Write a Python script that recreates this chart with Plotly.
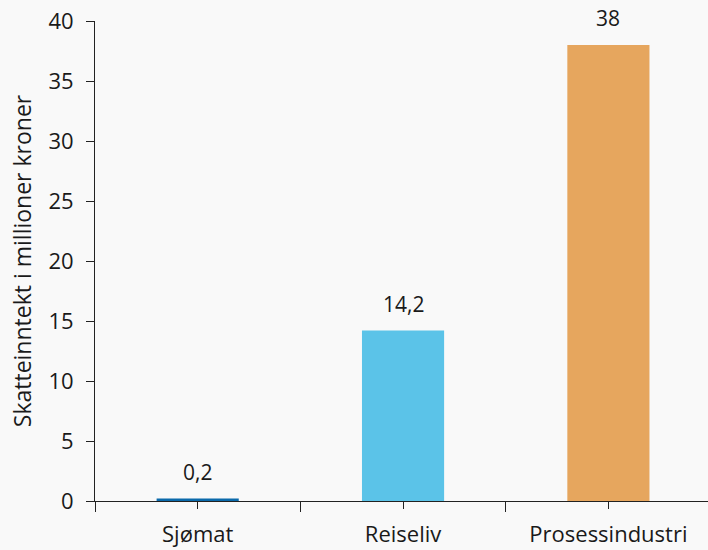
import plotly.graph_objects as go

categories = ["Sjømat", "Reiseliv", "Prosessindustri"]
values = [0.2, 14.2, 38]
colors = ["#0b6aab", "#5bc3e8", "#e6a65e"]
y_ticks = [0, 5, 10, 15, 20, 25, 30, 35, 40]

labels = [("%g" % v).replace(".", ",") for v in values]

font_family = "Open Sans, Noto Sans, sans-serif"
bg = "#f9f9f9"
ink = "#1a1a1a"

fig = go.Figure()
fig.add_trace(go.Bar(
    x=categories, y=values, marker=dict(color=colors, line=dict(width=0)),
    width=0.4, showlegend=False, hoverinfo="skip",
))
# invisible trace on the overlay axis to carry centre ticks
fig.add_trace(go.Scatter(
    x=categories, y=values, xaxis="x2", mode="markers",
    marker=dict(opacity=0), showlegend=False, hoverinfo="skip",
))

for c, v, t in zip(categories, values, labels):
    fig.add_annotation(x=c, y=v, text=t, showarrow=False, yanchor="bottom",
                       yshift=11, font=dict(size=21, color=ink, family=font_family))

fig.update_layout(
    width=708, height=550,
    margin=dict(l=95, r=0, t=21, b=49),
    paper_bgcolor=bg, plot_bgcolor=bg,
    font=dict(family=font_family, size=22, color=ink),
    xaxis=dict(
        type="category", range=[-0.5, 2.485], tickson="boundaries",
        ticks="outside", ticklen=10, tickcolor="#222", tickwidth=1,
        showline=True, linecolor="#222", linewidth=1,
        showgrid=False, zeroline=False,
        tickfont=dict(size=22), ticklabelstandoff=14,
    ),
    xaxis2=dict(
        type="category", range=[-0.5, 2.485], overlaying="x",
        ticks="outside", ticklen=7, tickcolor="#222", tickwidth=1,
        showticklabels=False, showline=False, showgrid=False, zeroline=False,
        side="bottom",
    ),
    yaxis=dict(
        range=[0, 40], tickvals=y_ticks, ticks="outside", ticklen=8,
        tickcolor="#222", tickwidth=1,
        showline=True, linecolor="#222", linewidth=1,
        showgrid=False, zeroline=False,
        tickfont=dict(size=22), ticklabelstandoff=8,
        title=dict(text="Skatteinntekt i millioner kroner", font=dict(size=23), standoff=10),
    ),
)

fig.write_html(
    "out.html",
    config={"displayModeBar": False},
    post_script="document.body.style.margin='0';document.body.style.background='#f9f9f9';",
)
